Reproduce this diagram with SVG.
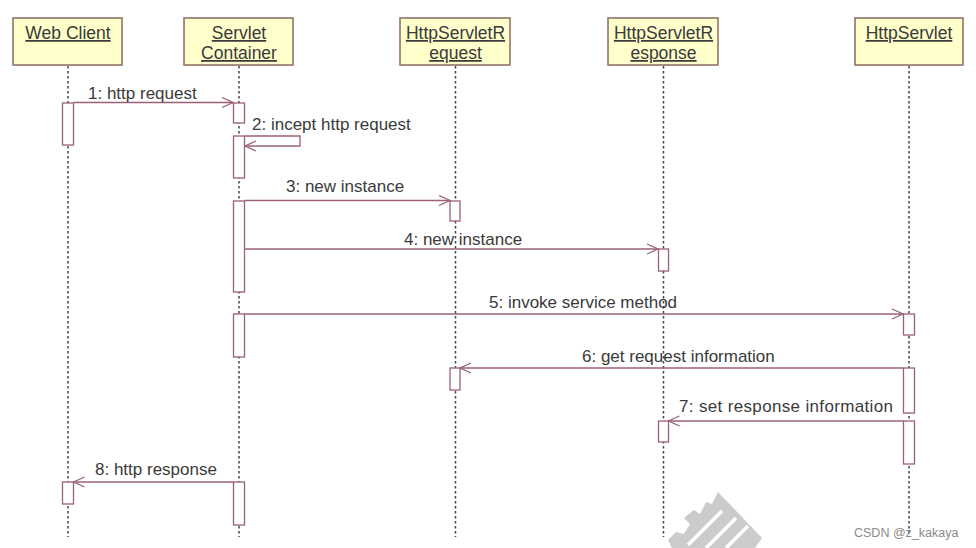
<svg xmlns="http://www.w3.org/2000/svg" width="976" height="548" viewBox="0 0 976 548">
<style>
.box{fill:#ffffcc;stroke:#8a6a60;stroke-width:1.5}
.bt{font-family:"Liberation Sans",Arial,sans-serif;font-size:17.5px;fill:#3a3a3a;text-anchor:middle;text-decoration:underline}
.life{stroke:#444;stroke-width:1.5;stroke-dasharray:2.5 2.5;fill:none}
.act{fill:#fff;stroke:#9a6078;stroke-width:1.3}
.msg{stroke:#9a6078;stroke-width:1.3;fill:none}
.lbl{font-family:"Liberation Sans",Arial,sans-serif;font-size:17px;fill:#3a3a3a}
.wm{font-family:"Liberation Sans",Arial,sans-serif;font-size:12.5px;fill:#8a8a8a}
</style>
<defs>
<marker id="ah" markerWidth="14" markerHeight="12" refX="12" refY="6" orient="auto" markerUnits="userSpaceOnUse">
<path d="M1 1 L12 6 L1 11" fill="none" stroke="#9a6078" stroke-width="1.3"/>
</marker>
</defs>
<rect width="976" height="548" fill="#fff"/>
<g id="watermark-logo">
<polygon fill="#cbcbcb" points="718,492 762,538 755,548 672,548 668,540 676,532 684,534 690,524 684,518 694,510 700,514 706,502 712,504"/>
<g stroke="#fff" stroke-width="3.5">
<line x1="688" y1="545" x2="722" y2="511"/>
<line x1="706" y1="548" x2="736" y2="518"/>
<line x1="726" y1="548" x2="748" y2="526"/>
</g>
</g>
<g id="lifelines">
<line class="life" x1="68" y1="66" x2="68" y2="537"/>
<line class="life" x1="239" y1="66" x2="239" y2="537"/>
<line class="life" x1="455.5" y1="66" x2="455.5" y2="537"/>
<line class="life" x1="663.5" y1="66" x2="663.5" y2="537"/>
<line class="life" x1="909" y1="66" x2="909" y2="537"/>
</g>
<g id="webclient">
<rect class="box" x="13" y="18" width="109" height="47"/>
<text class="bt" x="68" y="39">Web Client</text>
<rect class="act" x="62.5" y="103" width="11" height="42"/>
<rect class="act" x="62.5" y="482" width="11" height="22"/>
</g>
<g id="container">
<rect class="box" x="184" y="18" width="109" height="47"/>
<text class="bt" x="239" y="39">Servlet</text>
<text class="bt" x="239" y="59">Container</text>
<rect class="act" x="233.5" y="103" width="11" height="20"/>
<rect class="act" x="233.5" y="136" width="11" height="42"/>
<rect class="act" x="233.5" y="201" width="11" height="91"/>
<rect class="act" x="233.5" y="314" width="11" height="43"/>
<rect class="act" x="233.5" y="482" width="11" height="43"/>
</g>
<g id="request">
<rect class="box" x="400" y="18" width="110" height="47"/>
<text class="bt" x="455.5" y="39">HttpServletR</text>
<text class="bt" x="455.5" y="59">equest</text>
<rect class="act" x="450" y="201" width="10" height="20"/>
<rect class="act" x="450" y="368" width="10" height="22"/>
</g>
<g id="response">
<rect class="box" x="608" y="18" width="110" height="47"/>
<text class="bt" x="663.5" y="39">HttpServletR</text>
<text class="bt" x="663.5" y="59">esponse</text>
<rect class="act" x="658.5" y="249" width="10" height="22"/>
<rect class="act" x="658.5" y="421" width="10" height="21"/>
</g>
<g id="httpservlet">
<rect class="box" x="855" y="18" width="108" height="47"/>
<text class="bt" x="909" y="39">HttpServlet</text>
<rect class="act" x="903.5" y="314" width="11" height="21"/>
<rect class="act" x="903.5" y="368" width="11" height="45"/>
<rect class="act" x="903.5" y="421" width="11" height="43"/>
</g>
<g id="connectors">
<line class="msg" x1="73.5" y1="102.5" x2="233" y2="102.5" marker-end="url(#ah)"/>
<path class="msg" d="M244.5 136 H300 V146 H245" marker-end="url(#ah)"/>
<line class="msg" x1="244.5" y1="200.5" x2="450" y2="200.5" marker-end="url(#ah)"/>
<line class="msg" x1="244.5" y1="249" x2="658" y2="249" marker-end="url(#ah)"/>
<line class="msg" x1="244.5" y1="314" x2="903" y2="314" marker-end="url(#ah)"/>
<line class="msg" x1="903.5" y1="368" x2="460" y2="368" marker-end="url(#ah)"/>
<line class="msg" x1="903.5" y1="421" x2="668.5" y2="421" marker-end="url(#ah)"/>
<line class="msg" x1="233.5" y1="482" x2="73.5" y2="482" marker-end="url(#ah)"/>
</g>
<g id="labels">
<text class="lbl" x="88" y="99">1: http request</text>
<text class="lbl" x="252" y="130">2: incept http request</text>
<text class="lbl" x="286" y="192">3: new instance</text>
<text class="lbl" x="404" y="245">4: new instance</text>
<text class="lbl" x="489" y="308">5: invoke service method</text>
<text class="lbl" x="582" y="362">6: get request information</text>
<text class="lbl" x="679" y="412" textLength="214">7: set response information</text>
<text class="lbl" x="95" y="475">8: http response</text>
</g>
<text class="wm" x="854" y="537">CSDN @z_kakaya</text>
</svg>
